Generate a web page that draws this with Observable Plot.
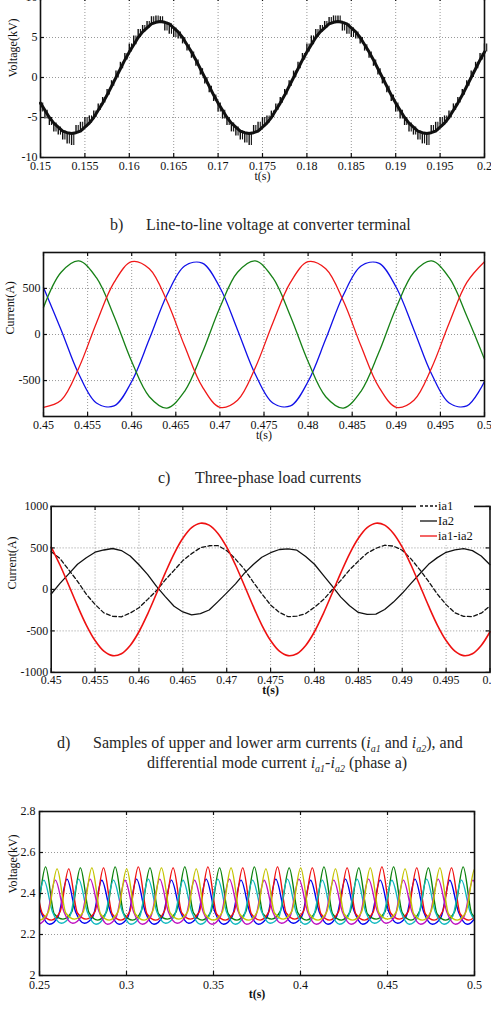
<!DOCTYPE html>
<html><head><meta charset="utf-8">
<script src="https://cdn.jsdelivr.net/npm/d3@7"></script>
<script src="https://cdn.jsdelivr.net/npm/@observablehq/plot@0.6"></script>
<style>
html,body{margin:0;padding:0;background:#fff;}
body{width:491px;height:1012px;overflow:hidden;position:relative;font-family:"Liberation Serif","Times New Roman",serif;color:#222;}
svg, svg text{font-family:"Liberation Serif","Times New Roman",serif !important;}
.abs{position:absolute;}
.cap{position:absolute;font-size:16px;line-height:18px;white-space:nowrap;color:#262626;}
.cap sub{font-size:10px;line-height:0;}
</style></head><body>
<div id="pa" class="abs" style="left:0;top:-13px"></div>
<div id="pb" class="abs" style="left:0;top:240px"></div>
<div id="pc" class="abs" style="left:0;top:494px"></div>
<div id="pd" class="abs" style="left:0;top:799px"></div>
<div id="legc" class="abs" style="left:410px;top:497px"></div>

<div class="cap" style="left:110px;top:216px">b)</div>
<div class="cap" style="left:146px;top:216px">Line-to-line voltage at converter terminal</div>
<div class="cap" style="left:158px;top:469px">c)</div>
<div class="cap" style="left:195px;top:469px">Three-phase load currents</div>
<div class="cap" style="left:57px;top:734px">d)</div>
<div class="cap" style="left:93px;top:734px">Samples of upper and lower arm currents (<i>i<sub>a1</sub></i> and <i>i<sub>a2</sub></i>), and</div>
<div class="cap" style="left:147px;top:754px">differential mode current <i>i<sub>a1</sub></i>-<i>i<sub>a2</sub></i> (phase a)</div>

<script>
// ---------- Panel a: line-to-line voltage (kV) ----------
const tA0 = 0.15, dtA = 0.0005;
const vA = [-3.2,-4.1,-5.0,-5.7,-6.2,-6.7,-6.9,-7.0,-6.9,-6.7,-6.2,-5.7,-5.0,-4.1,-3.2,-2.2,-1.1,0,1.1,2.2,3.2,4.1,5.0,5.7,6.2,6.7,6.9,7.0,6.9,6.7,6.2,5.7,5.0,4.1,3.2,2.2,1.1,0,-1.1,-2.2,
  -3.2,-4.1,-5.0,-5.7,-6.2,-6.7,-6.9,-7.0,-6.9,-6.7,-6.2,-5.7,-5.0,-4.1,-3.2,-2.2,-1.1,0,1.1,2.2,3.2,4.1,5.0,5.7,6.2,6.7,6.9,7.0,6.9,6.7,6.2,5.7,5.0,4.1,3.2,2.2,1.1,0,-1.1,-2.2,
  -3.2,-4.1,-5.0,-5.7,-6.2,-6.7,-6.9,-7.0,-6.9,-6.7,-6.2,-5.7,-5.0,-4.1,-3.2,-2.2,-1.1,0,1.1,2.2,3.2];
const vAspike = [-4.3,-5.2,-6.0,-6.8,-7.2,-7.8,-8.3,-8.5,-6.0,-5.6,-5.0,-4.8,-4.2,-3.3,-2.5,-1.5,-0.4,0.8,1.9,3.0,4.2,5.2,6.0,6.5,7.0,7.6,7.7,7.6,5.8,5.4,5.0,4.8,4.2,3.3,2.4,1.4,0.3,-0.8,-1.9,-3.0,
  -4.3,-5.2,-6.0,-6.8,-7.3,-7.8,-8.2,-8.5,-6.0,-5.6,-5.0,-4.8,-4.2,-3.3,-2.5,-1.5,-0.4,0.8,1.9,3.0,4.2,5.2,6.0,6.5,7.0,7.5,7.7,7.7,5.8,5.4,5.0,4.8,4.2,3.3,2.4,1.4,0.3,-0.8,-1.9,-3.0,
  -4.3,-5.2,-6.0,-6.8,-7.2,-7.8,-8.3,-8.5,-6.0,-5.6,-5.0,-4.8,-4.2,-3.3,-2.5,-1.5,-0.4,0.8,1.9,3.0,4.2];
const xTicksA = [0.15,0.155,0.16,0.165,0.17,0.175,0.18,0.185,0.19,0.195,0.2];
const yTicksA = [-10,-5,0,5,10];

// ---------- Panel b: three-phase load currents (A) ----------
const tB0 = 0.45, dtB = 0.002;
const bBlue  = [510,50,-429,-744,-775,-510,-50,429,744,775,510,50,-429,-744,-775,-510,-50,429,744,775,510,50,-429,-744,-775,-510];
const bGreen = [294,675,798,616,199,-294,-675,-798,-616,-199,294,675,798,616,199,-294,-675,-798,-616,-199,294,675,798,616,199,-270];
const bRed   = [-790,-713,-363,125,566,790,713,363,-125,-566,-790,-713,-363,125,566,790,713,363,-125,-566,-790,-713,-363,125,566,790];
const xTicksB = [0.45,0.455,0.46,0.465,0.47,0.475,0.48,0.485,0.49,0.495,0.5];
const yTicksB = [-500,0,500];

// ---------- Panel c: arm currents (A) ----------
const tC0 = 0.45, dtC = 0.001;
const cIa1 = [455,372,236,98,-58,-181,-283,-324,-330,-285,-221,-120,-14,115,230,347,431,502,526,528,
  468,366,244,92,-52,-188,-277,-329,-323,-291,-215,-126,-7,109,236,341,437,495,532,522,
  472,368,238,97,-57,-183,-282,-325,-327,-286,-200];
const cIa2 = [-55,73,187,303,382,448,475,493,468,403,297,178,37,-87,-203,-272,-308,-292,-248,-147,
  -42,67,193,297,388,442,481,488,473,397,303,172,43,-93,-197,-278,-302,-298,-242,-153,
  -47,72,188,302,383,447,476,491,467,402,298];
const cDiff = [510,294,50,-199,-429,-616,-744,-798,-775,-675,-510,-294,-50,199,429,616,744,798,775,675,
  510,294,50,-199,-429,-616,-744,-798,-775,-675,-510,-294,-50,199,429,616,744,798,775,675,
  510,294,50,-199,-429,-616,-744,-798,-775,-675,-510];
const cLegend = ["ia1","Ia2","ia1-ia2"];
const xTicksC = [0.45,0.455,0.46,0.465,0.47,0.475,0.48,0.485,0.49,0.495,0.5];
const yTicksC = [-1000,-500,0,500,1000];

// ---------- Panel d: capacitor voltages (kV), samples every quarter period starting at a peak ----------
const dStep = 0.005;
const dStart = [0.2458, 0.2335, 0.2468, 0.2325, 0.2391, 0.2401]; // blue, green, red, cyan, magenta, yellow
const dBlue = [2.465,2.31,2.25,2.29, 2.47,2.31,2.255,2.29, 2.465,2.31,2.25,2.285, 2.47,2.31,2.25,2.29, 2.465,2.315,2.255,2.29,
  2.47,2.31,2.25,2.29, 2.465,2.31,2.25,2.285, 2.47,2.31,2.255,2.29, 2.465,2.31,2.25,2.29, 2.47,2.315,2.25,2.29,
  2.465,2.31,2.255,2.29, 2.47,2.31,2.25,2.285, 2.465,2.31,2.25,2.29, 2.47,2.31,2.25];
const dGreen = [2.525,2.30,2.27,2.31, 2.53,2.30,2.275,2.31, 2.525,2.305,2.27,2.31, 2.53,2.30,2.27,2.315, 2.525,2.30,2.275,2.31,
  2.53,2.305,2.27,2.31, 2.525,2.30,2.27,2.31, 2.53,2.30,2.275,2.315, 2.525,2.305,2.27,2.31, 2.53,2.30,2.27,2.31,
  2.525,2.30,2.275,2.31, 2.53,2.305,2.27,2.315, 2.525,2.30,2.27,2.31, 2.53,2.30,2.27];
const dRed = [2.525,2.30,2.27,2.31, 2.52,2.305,2.275,2.31, 2.525,2.30,2.27,2.31, 2.53,2.30,2.27,2.315, 2.525,2.305,2.275,2.31,
  2.53,2.30,2.27,2.31, 2.525,2.30,2.27,2.31, 2.53,2.305,2.275,2.315, 2.525,2.30,2.27,2.31, 2.525,2.30,2.27,2.31,
  2.53,2.305,2.275,2.31, 2.525,2.30,2.27,2.315, 2.525,2.30,2.27,2.31, 2.53,2.30,2.27];
const dCyan = [2.47,2.31,2.25,2.29, 2.465,2.31,2.255,2.29, 2.47,2.31,2.25,2.29, 2.465,2.315,2.25,2.285, 2.47,2.31,2.255,2.29,
  2.465,2.31,2.25,2.29, 2.47,2.31,2.25,2.29, 2.465,2.315,2.255,2.285, 2.47,2.31,2.25,2.29, 2.465,2.31,2.25,2.29,
  2.47,2.31,2.255,2.29, 2.465,2.315,2.25,2.285, 2.47,2.31,2.25,2.29, 2.465,2.31,2.25];
const dMagenta = [2.47,2.31,2.25,2.29, 2.465,2.31,2.255,2.29, 2.47,2.315,2.25,2.285, 2.465,2.31,2.25,2.29, 2.47,2.31,2.255,2.29,
  2.465,2.31,2.25,2.29, 2.47,2.315,2.25,2.285, 2.465,2.31,2.255,2.29, 2.47,2.31,2.25,2.29, 2.465,2.31,2.25,2.29,
  2.47,2.315,2.255,2.285, 2.465,2.31,2.25,2.29, 2.47,2.31,2.25,2.29, 2.465,2.31,2.25];
const dYellow = [2.52,2.30,2.27,2.31, 2.52,2.305,2.275,2.31, 2.525,2.30,2.27,2.31, 2.52,2.30,2.27,2.315, 2.525,2.305,2.275,2.31,
  2.52,2.30,2.27,2.31, 2.525,2.30,2.27,2.31, 2.52,2.305,2.275,2.315, 2.525,2.30,2.27,2.31, 2.52,2.30,2.27,2.31,
  2.525,2.305,2.275,2.31, 2.52,2.30,2.27,2.315, 2.525,2.30,2.27,2.31, 2.52,2.30,2.27];
const dColors = ["#0000f0","#0a800a","#f01010","#10b8c0","#c010c0","#c4c400"];
const xTicksD = [0.25,0.3,0.35,0.4,0.45,0.5];
const yTicksD = [2,2.2,2.4,2.6,2.8];

// ---------- helpers ----------
const fmt = d => String(+d.toFixed(3));
const inner = a => a.slice(1, -1);
const FONT = '"Liberation Serif", "Times New Roman", serif';
function panel(o) {
  const H = o.height - o.mt - o.mb, W = o.width - o.ml - o.mr;
  const grid = {stroke: "#8c8c8c", strokeOpacity: 1, strokeDasharray: "1,2", strokeWidth: 0.9};
  return Plot.plot({
    width: o.width, height: o.height,
    marginLeft: o.ml, marginRight: o.mr, marginTop: o.mt, marginBottom: o.mb,
    style: {fontFamily: FONT, fontSize: "12px", color: "#111", background: "transparent", overflow: "visible"},
    x: {domain: o.xDomain}, y: {domain: o.yDomain},
    marks: [
      Plot.gridX(o.xGrid, grid),
      Plot.gridY(o.yGrid, grid),
      ...o.marks,
      Plot.ruleX(o.xTicks, {insetTop: H - 4, strokeWidth: 1.2}),
      Plot.ruleX(o.xTicks, {insetBottom: H - 4, strokeWidth: 1.2}),
      Plot.ruleY(o.yTicks, {insetRight: W - 4, strokeWidth: 1.2}),
      Plot.ruleY(o.yTicks, {insetLeft: W - 4, strokeWidth: 1.2}),
      Plot.frame({strokeWidth: 1.6}),
      Plot.axisX(o.xTicks, {tickSize: 0, tickPadding: o.xPad, tickFormat: fmt, label: null, fontFamily: FONT}),
      Plot.axisY(o.yTicks, {tickSize: 0, tickPadding: o.yPad, tickFormat: fmt, label: null, fontFamily: FONT}),
      Plot.text([o.xLabel], {text: d => d, frameAnchor: "bottom", dy: o.xLabelDy, fontWeight: o.xBold ? "bold" : "normal", fontFamily: FONT}),
      Plot.text([o.yLabel], {text: d => d, frameAnchor: "left", dx: o.yLabelDx, rotate: -90, fontFamily: FONT})
    ]
  });
}

// Panel a
const xA = (d, i) => tA0 + i * dtA;
document.getElementById("pa").append(panel({
  width: 491, height: 205, ml: 40, mr: 7, mt: 10, mb: 35,
  xDomain: [0.15, 0.2], yDomain: [-10, 10],
  xTicks: xTicksA, yTicks: yTicksA, xGrid: inner(xTicksA), yGrid: inner(yTicksA),
  xPad: 3.5, yPad: 3, xLabel: "t(s)", xLabelDy: 22, yLabel: "Voltage(kV)", yLabelDx: -27.5,
  marks: [
    Plot.line(vA, {x: xA, y: d => d, stroke: "#111", strokeWidth: 3}),
    Plot.ruleX(vA, {x: xA, y1: d => d, y2: (d, i) => vAspike[i], stroke: "#111", strokeWidth: 1.4}),
    Plot.ruleX(vA, {x: xA, y1: d => d, y2: (d, i) => vAspike[i], stroke: "#111", strokeWidth: 1.1, dx: 2.2})
  ]
}));

// Panel b
const xB = (d, i) => tB0 + i * dtB;
document.getElementById("pb").append(panel({
  width: 491, height: 206, ml: 43, mr: 7, mt: 12, mb: 30,
  xDomain: [0.45, 0.5], yDomain: [-890, 890],
  xTicks: xTicksB, yTicks: yTicksB, xGrid: inner(xTicksB), yGrid: yTicksB,
  xPad: 3.5, yPad: 3, xLabel: "t(s)", xLabelDy: 22, yLabel: "Current(A)", yLabelDx: -33,
  marks: [
    Plot.line(bBlue,  {x: xB, y: d => d, curve: "catmull-rom", stroke: "#1010e8", strokeWidth: 1.3}),
    Plot.line(bGreen, {x: xB, y: d => d, curve: "catmull-rom", stroke: "#168016", strokeWidth: 1.3}),
    Plot.line(bRed,   {x: xB, y: d => d, curve: "catmull-rom", stroke: "#f01818", strokeWidth: 1.3})
  ]
}));

// Panel c
const xC = (d, i) => tC0 + i * dtC;
document.getElementById("pc").append(panel({
  width: 494, height: 209, ml: 51, mr: 1.5, mt: 12, mb: 30,
  xDomain: [0.45, 0.5], yDomain: [-1000, 1000],
  xTicks: xTicksC, yTicks: yTicksC, xGrid: inner(xTicksC), yGrid: inner(yTicksC),
  xPad: 3.5, yPad: 3, xLabel: "t(s)", xBold: true, xLabelDy: 22, yLabel: "Current(A)", yLabelDx: -39,
  marks: [
    Plot.line(cIa1,  {x: xC, y: d => d, stroke: "#111", strokeWidth: 1.3, strokeDasharray: "4,2.5"}),
    Plot.line(cIa2,  {x: xC, y: d => d, stroke: "#111", strokeWidth: 1.3}),
    Plot.line(cDiff, {x: xC, y: d => d, curve: "catmull-rom", stroke: "#ee1111", strokeWidth: 1.6})
  ]
}));

// Legend for panel c
(function () {
  const svg = d3.create("svg").attr("width", 81).attr("height", 50)
    .style("font-family", FONT).style("font-size", "12.5px");
  svg.append("rect").attr("x", 6).attr("y", 0).attr("width", 58).attr("height", 48).attr("fill", "#fff");
  const styles = [{c: "#111", dash: "3,2"}, {c: "#111", dash: null}, {c: "#ee1111", dash: null}];
  cLegend.forEach((name, i) => {
    const y = 9 + i * 15;
    const l = svg.append("line").attr("x1", 10).attr("x2", 27).attr("y1", y).attr("y2", y)
      .attr("stroke", styles[i].c).attr("stroke-width", 1.3);
    if (styles[i].dash) l.attr("stroke-dasharray", styles[i].dash);
    svg.append("text").attr("x", 28).attr("y", y + 4).attr("fill", "#111").text(name);
  });
  document.getElementById("legc").append(svg.node());
})();

// Panel d
const dValues = [dBlue, dGreen, dRed, dCyan, dMagenta, dYellow];
document.getElementById("pd").append(panel({
  width: 491, height: 213, ml: 39, mr: 17, mt: 12, mb: 37,
  xDomain: [0.25, 0.5], yDomain: [2, 2.8],
  xTicks: xTicksD, yTicks: yTicksD, xGrid: inner(xTicksD), yGrid: inner(yTicksD),
  xPad: 4.5, yPad: 4, xLabel: "t(s)", xBold: true, xLabelDy: 22, yLabel: "Voltage(kV)", yLabelDx: -26.5,
  marks: dValues.map((vals, s) =>
    Plot.line(vals, {x: (d, i) => dStart[s] + i * dStep, y: d => d, curve: "monotone-x", stroke: dColors[s], strokeWidth: 1.4, clip: true})
  )
}));
</script>
</body></html>
